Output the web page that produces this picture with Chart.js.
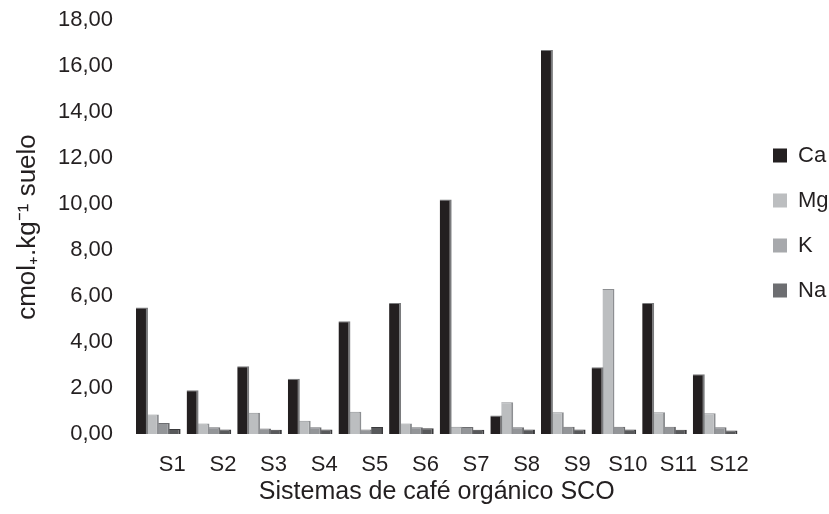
<!DOCTYPE html>
<html>
<head>
<meta charset="utf-8">
<script src="https://cdn.jsdelivr.net/npm/chart.js@4.4.1/dist/chart.umd.min.js"></script>
<style>
  html, body { margin: 0; padding: 0; background: #ffffff; }
  #wrap { width: 829px; height: 514px; }
</style>
</head>
<body>
<div id="wrap"><canvas id="c" width="829" height="514"></canvas></div>
<script>
const categories = ['S1','S2','S3','S4','S5','S6','S7','S8','S9','S10','S11','S12'];
const seriesNames = ['Ca','Mg','K','Na'];
const caValues = [5.50, 1.90, 2.95, 2.40, 4.90, 5.70, 10.20, 0.80, 16.70, 2.90, 5.70, 2.60];
const mgValues = [0.85, 0.46, 0.92, 0.58, 0.97, 0.46, 0.32, 1.38, 0.95, 6.30, 0.95, 0.90];
const kValues  = [0.48, 0.29, 0.24, 0.29, 0.20, 0.29, 0.30, 0.29, 0.32, 0.32, 0.32, 0.29];
const naValues = [0.22, 0.20, 0.18, 0.20, 0.30, 0.25, 0.19, 0.20, 0.20, 0.20, 0.19, 0.15];
const yTicks = [0, 2, 4, 6, 8, 10, 12, 14, 16, 18];

const barColors    = ['#231f20', '#bcbec0', '#939598', '#58595b'];
const edgeColors   = ['#7a7b7d', '#8d8f92', '#6d6e71', '#3a3a3c'];
const legendColors = ['#231f20', '#bcbec0', '#a7a9ac', '#6d6e71'];
const textColor = '#231f20';
const FONT = "'Liberation Sans', Arial, Helvetica, sans-serif";

const valueSets = [caValues, mgValues, kValues, naValues];
const datasets = seriesNames.map((name, i) => ({
  label: name,
  data: valueSets[i],
  backgroundColor: barColors[i],
  borderColor: edgeColors[i],
  borderWidth: { top: 1, right: 2, bottom: 0, left: 0 },
  borderSkipped: 'start',
  categoryPercentage: 0.86,
  barPercentage: 1.1
}));

const legendShift = {
  id: 'legendShift',
  afterLayout(chart) {
    const l = chart.legend;
    const w = l.right - l.left;
    l.left = 750; l.right = 750 + w;
    l.top -= 4; l.bottom -= 4;
  }
};

new Chart(document.getElementById('c'), {
  type: 'bar',
  data: { labels: categories, datasets },
  plugins: [legendShift],
  options: {
    responsive: false,
    animation: false,
    layout: { padding: { top: 20, left: 0, right: 0, bottom: 0 } },
    plugins: {
      tooltip: { enabled: false },
      legend: {
        position: 'right',
        fullSize: false,
        maxWidth: 90,
        labels: {
          boxWidth: 14,
          boxHeight: 14,
          padding: 23,
          color: textColor,
          font: { family: FONT, size: 22 },
          generateLabels(chart) {
            const items = Chart.defaults.plugins.legend.labels.generateLabels(chart);
            items.forEach((it, i) => {
              it.fillStyle = legendColors[i];
              it.strokeStyle = legendColors[i];
              it.lineWidth = 0;
            });
            return items;
          }
        }
      }
    },
    scales: {
      x: {
        grid: { display: false, drawTicks: false },
        border: { display: false },
        ticks: {
          color: textColor,
          font: { family: FONT, size: 22 },
          padding: 18,
          labelOffset: 14,
          maxRotation: 0,
          autoSkip: false
        },
        title: {
          display: true,
          text: 'Sistemas de café orgánico SCO',
          color: textColor,
          font: { family: FONT, size: 25 },
          padding: { top: 0, bottom: 7 }
        },
        afterFit(scale) { scale.height = 80; }
      },
      y: {
        min: 0,
        max: 18,
        grid: { display: false, drawTicks: false },
        border: { display: false },
        afterBuildTicks(scale) { scale.ticks = yTicks.map(v => ({ value: v })); },
        ticks: {
          color: textColor,
          font: { family: FONT, size: 22 },
          padding: 20,
          callback: v => Number(v).toFixed(2).replace('.', ',')
        },
        title: {
          display: true,
          text: 'cmol\u208A.kg\u207B\u00B9 suelo',
          color: textColor,
          font: { family: FONT, size: 26 },
          padding: { top: 12, bottom: 0 }
        },
        afterFit(scale) {
          scale.width = 133;
          scale.paddingTop = 0;
          scale.paddingBottom = 0;
        }
      }
    }
  }
});
</script>
</body>
</html>
